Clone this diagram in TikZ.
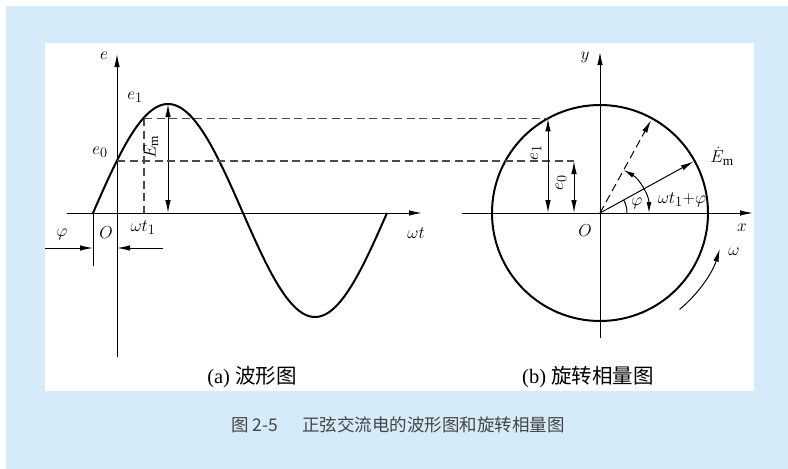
\documentclass[tikz,border=0pt]{standalone}
\usepackage{fontspec}
\setmainfont{Liberation Serif}
\newfontfamily\cjk{Noto Sans CJK SC}
\usepackage{amsmath}
\usetikzlibrary{arrows.meta,positioning,calc}
\definecolor{panelblue}{HTML}{D5EBF9}
\definecolor{dashgray}{HTML}{4A4A4A}
\definecolor{capgray}{HTML}{454545}
\tikzset{
  axisline/.style={line width=1pt, color=black},
  axisarrow/.style={
    -{Latex[length=13pt,width=5.5pt]}, line width=1pt
  },
  dimarrow/.style={
    {Latex[length=13pt,width=5.5pt]}-{Latex[length=13pt,width=5.5pt]},
    line width=1pt
  },
  anglearrow/.style={
    {Latex[length=11pt,width=5pt]}-{Latex[length=11pt,width=5pt]},
    line width=1pt
  },
  guideline/.style={
    dash pattern=on 8pt off 4.5pt, line width=1.3pt, color=dashgray
  },
  curveline/.style={line width=2pt, line join=round},
  mathlabel/.style={font=\fontsize{19}{21}\selectfont, inner sep=1pt},
  sublabel/.style={font=\fontsize{20.5}{23}\selectfont, inner sep=1pt},
  caplabel/.style={font=\fontsize{17.5}{20}\selectfont\cjk, color=capgray},
}

\begin{document}
\begin{tikzpicture}[x=1pt, y=-1pt]
  \useasboundingbox (0,0) rectangle (788,469);
  % frame
  \fill[panelblue] (6,6) rectangle (788,469);
  \fill[white] (45,43) rectangle (754,391);

  % Waveform side
  \coordinate (haxL) at (67,213);
  \coordinate (haxR) at (422,213);
  \coordinate (vaxB) at (117,357);
  \coordinate (vaxT) at (117,54);
  \coordinate (start) at (93,213);
  \coordinate (peak) at (168,104);
  \coordinate (peakB) at (168,213);
  \coordinate (pe1) at (144,118.4);
  \coordinate (pt1) at (144,213);
  \coordinate (pe0) at (117,161);
  \coordinate (phiB) at (93,266);
  \coordinate (phiL) at (45,248);
  \coordinate (phiR) at (93,248);
  \coordinate (oR) at (163,248);
  \coordinate (oL) at (117,248);
  \draw[axisarrow] (haxL) -- (haxR);
  \draw[axisarrow] (vaxB) -- (vaxT);
  \draw[axisline] (start) -- (phiB);
  \draw[axisarrow] (phiL) -- (phiR);
  \draw[axisarrow] (oR) -- (oL);
  \draw[guideline] (pe1) -- (pt1);
  \draw[curveline] plot[domain=0:294, samples=148, smooth]
    ({93+\x}, {213-(\x<150 ? 109*sin(1.2*\x) : 104*sin(180+(\x-150)*1.25))});
  \draw[dimarrow] (peak) -- (peakB);
  \node[mathlabel] (lbe) at (104,56) {$e$};
  \node[mathlabel] (lbe1) at (135,97) {$e_1$};
  \node[mathlabel] (lbe0) at (100,152) {$e_0$};
  \node[mathlabel, rotate=90] (lbEm) at (151,147) {$E_{\mathrm{m}}$};
  \node[mathlabel] (lbwt1) at (143,228) {$\omega t_1$};
  \node[mathlabel] (lbO1) at (106,233) {$O$};
  \node[mathlabel] (lbphi1) at (62,234) {$\varphi$};
  \node[mathlabel] (lbwt) at (416,233) {$\omega t$};

  % Phasor side
  \coordinate (c) at (600,213);
  \coordinate (xaxL) at (462,213);
  \coordinate (xaxR) at (753,213);
  \coordinate (yaxB) at (600,338);
  \coordinate (yaxT) at (600,52);
  \coordinate (ce1) at (548,118.4);
  \coordinate (ce1B) at (548,213);
  \coordinate (ce0) at (574,161);
  \coordinate (ce0B) at (574,213);
  \coordinate (tipEm) at ($(c)+(-28.8:107)$);
  \coordinate (tipE1) at ($(c)+(-61.2:106)$);
  \draw[axisarrow] (xaxL) -- (xaxR);
  \draw[axisarrow] (yaxB) -- (yaxT);
  \draw[curveline] (c) circle[radius=108];
  \draw[guideline] (pe1) -- (ce1);
  \draw[guideline] (pe0) -- (ce0);
  \draw[dimarrow] (ce1) -- (ce1B);
  \draw[dimarrow] (ce0) -- (ce0B);
  \draw[axisarrow] (c) -- (tipEm);
  \draw[axisarrow, dash pattern=on 8pt off 4.5pt] (c) -- (tipE1);
  \draw[line width=1pt] ($(c)+(27,0)$) arc[start angle=0, end angle=-28.8, radius=27];
  \draw[anglearrow] ($(c)+(-61.2:49)$) arc[start angle=-61.2, end angle=0, radius=49];
  \draw[axisarrow] ($(c)+(50.5:125)$) arc[start angle=50.5, end angle=16.6, radius=125];
  \node[mathlabel] (lby) at (585,57) {$y$};
  \node[mathlabel] (lbO2) at (585,231) {$O$};
  \node[mathlabel] (lbx) at (742,228) {$x$};
  \node[mathlabel] (lbEm2) at (722,156) {$\dot{E}_{\mathrm{m}}$};
  \node[mathlabel, rotate=90] (lbce1) at (536,153) {$e_1$};
  \node[mathlabel, rotate=90] (lbce0) at (561,183) {$e_0$};
  \node[mathlabel] (lbphi2) at (637,203) {$\varphi$};
  \node[mathlabel] (lbang) at (682,200) {$\omega t_1{+}\varphi$};
  \node[mathlabel] (lbw) at (734,252) {$\omega$};

  % captions
  \node[sublabel] (capa) at (252,377) {(a) {\cjk 波形图}};
  \node[sublabel] (capb) at (588,377) {(b) {\cjk 旋转相量图}};
  \node[caplabel] (cap) at (398,425) {图 2-5\hspace{1.4em}正弦交流电的波形图和旋转相量图};
\end{tikzpicture}
\end{document}
